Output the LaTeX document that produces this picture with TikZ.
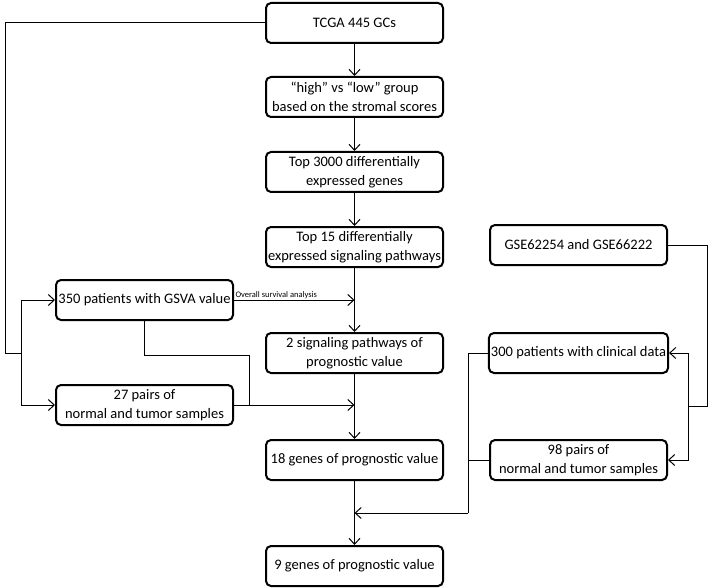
\documentclass[tikz,border=0pt]{standalone}
\usepackage{fontspec}
\setmainfont{Carlito}
\usetikzlibrary{arrows.meta}
\tikzset{
  box/.style={draw, line width=2pt, rounded corners=5pt, minimum width=177pt,
    minimum height=40pt, align=center, inner sep=2pt, font=\fontsize{14.5}{19.5}\selectfont},
  link/.style={line width=1pt, -{Straight Barb[length=6pt,width=11pt]}}
}
\begin{document}
\begin{tikzpicture}[x=1pt,y=-1pt]
      \useasboundingbox (0,0) rectangle (709,588);
      \draw
        (354.5,23) node[box] (tcga){TCGA 445 GCs}
        (354.5,97) node[box] (group){“high” vs “low” group\\based on the stromal scores}
        (354.5,172) node[box] (top3000){Top 3000 differentially\\expressed genes}
        (354.5,247) node[box] (top15){Top 15 differentially\\expressed signaling pathways}
        (354.5,353) node[box] (sig2){2 signaling pathways of\\prognostic value}
        (354.5,460) node[box] (genes18){18 genes of prognostic value}
        (354.5,566) node[box] (genes9){9 genes of prognostic value}
        (144.5,300) node[box] (gsva){350 patients with GSVA value}
        (144.5,405) node[box] (pairs27){27 pairs of\\normal and tumor samples}
        (578.5,245) node[box] (gse){GSE62254 and GSE66222}
        (578.5,353) node[box] (clin){300 patients with clinical data}
        (578.5,460) node[box] (pairs98){98 pairs of\\normal and tumor samples};
      \coordinate (lsplit) at (21,353);
      \coordinate (rsplit) at (688,406);
      \coordinate (ljoin) at (249,405);
      \coordinate (rjoin) at (468,513);
      \begin{scope}[link]
        \draw (tcga) to (group);
        \draw (group) to (top3000);
        \draw (top3000) to (top15);
        \draw (top15) to (sig2);
        \draw (sig2) to (genes18);
        \draw (genes18) to (genes9);
        % TCGA data to the two left boxes
        \draw[-] (tcga.west) -- (5,23) |- (lsplit);
        \draw (lsplit) |- (gsva.west);
        \draw (lsplit) |- (pairs27.west);
        \draw (gsva.east) -- node[pos=0, anchor=south west, inner sep=1pt,
          font=\fontsize{8.5}{9}\selectfont]{Overall survival analysis} (gsva.east -| top15.south);
        \draw[-] (gsva.south) |- (249,355) -- (ljoin);
        \draw (pairs27.east) -- (pairs27.east -| sig2.south);
        % GEO data to the two right boxes
        \draw[-] (gse.east) -- (707,245) |- (rsplit);
        \draw (rsplit) |- (clin.east);
        \draw (rsplit) |- (pairs98.east);
        \draw[-] (clin.west) -| (rjoin);
        \draw[-] (pairs98.west) -- (pairs98.west -| rjoin);
        \draw (rjoin) -- (rjoin -| genes18.south);
      \end{scope}
    \end{tikzpicture}
\end{document}
